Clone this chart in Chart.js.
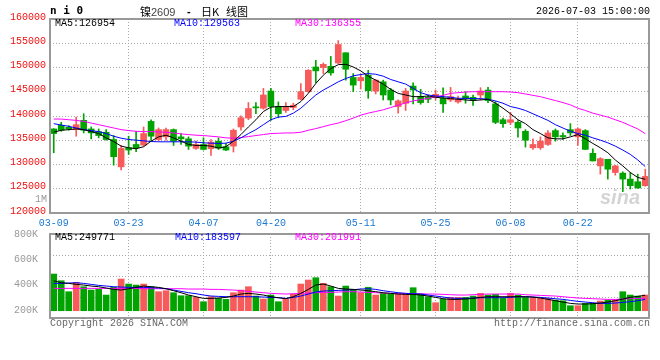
<!DOCTYPE html>
<html>
<head>
<meta charset="utf-8">
<script src="https://cdn.jsdelivr.net/npm/chart.js@4.4.0/dist/chart.umd.min.js"></script>
<style>
  body { margin: 0; width: 660px; height: 360px; background: #fff; position: relative; overflow: hidden; }
  canvas { position: absolute; left: 0; }
  .t { position: absolute; white-space: pre; font: 10px "Liberation Mono", "DejaVu Sans Mono", monospace; line-height: 12px; }
</style>
</head>
<body>
<canvas id="kChart" width="660" height="228" style="top:0"></canvas>
<canvas id="volChart" width="660" height="138" style="top:222px"></canvas>

<div class="t" style="left:50px;top:4px;font:bold 11px 'DejaVu Sans Mono';line-height:14px">n i 0</div>
<div class="t" style="left:140px;top:4px;font:11px 'Noto Sans CJK SC';line-height:14px">镍<span style="font-family:'Liberation Sans';color:#444">2609</span></div>
<div class="t" style="left:187px;top:4px;font:bold 11px 'Liberation Sans';line-height:14px">-</div>
<div class="t" style="left:201px;top:4px;font:11px 'Noto Sans CJK SC';line-height:14px">日K</div>
<div class="t" style="left:226px;top:4px;font:11px 'Noto Sans CJK SC';line-height:14px">线图</div>
<div class="t" style="left:536px;top:6px">2026-07-03 15:00:00</div>

<div class="t" style="left:55px;top:18px;color:#000">MA5:126954</div>
<div class="t" style="left:174px;top:18px;color:#0000ff">MA10:129563</div>
<div class="t" style="left:295px;top:18px;color:#ff00ff">MA30:136355</div>
<div class="t" style="left:35px;top:194px;color:#999">1M</div>
<div class="t" style="left:600px;top:186px;font:italic bold 20px 'Liberation Sans';line-height:22px;color:#d4d4d4">sina</div>

<div class="t" style="left:55px;top:232px;color:#000">MA5:249771</div>
<div class="t" style="left:175px;top:232px;color:#0000ff">MA10:183597</div>
<div class="t" style="left:295px;top:232px;color:#ff00ff">MA30:201991</div>

<div class="t" style="left:50px;top:318px;color:#666">Copyright 2026 SINA.COM</div>
<div class="t" style="left:494px;top:318px;color:#666">http://finance.sina.com.cn</div>

<script>
// trading days 03-09 .. 07-03
const dates = [
  '03-09','03-10','03-11','03-12','03-13','03-16','03-17','03-18','03-19','03-20',
  '03-23','03-24','03-25','03-26','03-27','03-30','03-31','04-01','04-02','04-03',
  '04-07','04-08','04-09','04-10','04-13','04-14','04-15','04-16','04-17','04-20',
  '04-21','04-22','04-23','04-24','04-27','04-28','04-29','04-30','05-06','05-07',
  '05-08','05-11','05-12','05-13','05-14','05-15','05-18','05-19','05-20','05-21',
  '05-22','05-25','05-26','05-27','05-28','05-29','06-01','06-02','06-03','06-04',
  '06-05','06-08','06-09','06-10','06-11','06-12','06-15','06-16','06-17','06-18',
  '06-22','06-23','06-24','06-25','06-26','06-29','06-30','07-01','07-02','07-03'
];
const tickDates = ['03-09','03-23','04-07','04-20','05-11','05-25','06-08','06-22'];

const openP = [
  137330,138080,137670,137190,139100,137330,136780,136650,135150,129510,
  133450,134130,134000,138890,135150,135700,137190,135700,135290,133320,
  134130,133250,134810,133660,133790,137740,139570,141820,141610,145150,
  141950,141140,141750,143450,145010,150110,149980,150250,150930,153040,
  147940,147260,148410,145150,147050,145350,141950,142630,146170,143990,
  143860,143860,143650,143310,142900,144130,143860,144330,145350,142500,
  139230,138690,138690,136850,133450,133450,134130,136990,135970,137190,
  135700,136990,132300,129710,131070,128350,128220,126990,126450,125630
];
const highP = [
  137400,138690,138010,139780,140460,137740,137330,137190,135970,133930,
  135830,136850,137740,139230,137530,137530,137330,136380,135700,134810,
  135490,135150,135490,134340,137330,140050,142770,142770,145690,145690,
  142900,142770,142630,146710,149570,151470,150930,152290,155550,153040,
  148750,148620,149430,147530,147390,145690,143310,145690,146850,145490,
  144330,145350,145830,145900,144130,145010,144330,145830,145900,142970,
  139570,140730,139030,137190,135290,135700,136990,137330,136510,138420,
  137530,137190,133250,131410,131070,129850,128490,128350,128010,129030
];
const lowP = [
  132430,136850,137060,135830,136510,135290,135490,135020,129850,128900,
  132090,132640,133790,134950,134810,135020,133930,134130,133110,133110,
  132980,131890,133110,132840,132570,137060,139230,140460,141410,139100,
  139640,140730,141270,143310,144880,146850,148750,148410,150790,147390,
  145010,145560,143650,144540,143310,142290,140590,141140,142500,142430,
  142770,143310,140730,142970,142630,142630,142160,143310,142770,138420,
  137670,138210,135630,133590,133110,133110,133930,134810,135150,135970,
  133930,133110,130730,128010,126990,127810,124410,124950,125090,125500
];
const closeP = [
  136380,137060,137330,138210,137060,136510,135970,135150,131620,133320,
  132980,133450,136380,135830,137190,137190,134810,135290,133790,134130,
  133110,134610,133380,132980,137060,139640,141540,141680,144330,141950,
  140460,141950,142220,145010,149430,149300,150660,148890,154740,149640,
  146370,147940,145220,147390,144330,143310,143110,145150,145350,142770,
  143450,144470,142500,143990,143450,143580,143310,145150,143180,138690,
  138420,139230,137530,135020,134130,134810,136510,135700,135700,136510,
  137330,133110,130730,131210,129030,129710,126990,125630,125160,127540
];

const ma5 = [
  136650,137060,137190,137330,137190,136780,136380,135490,134740,133790,
  133450,133250,133660,134810,135700,136040,135490,134810,134130,133930,
  133930,133790,133380,133660,134810,136170,137740,139230,140930,141820,
  141950,141950,141950,142970,144670,146710,148410,149770,150590,150660,
  150110,149300,148210,147390,146580,145490,144670,144330,143990,143990,
  144130,143860,143720,143580,143450,143310,143180,143310,143450,142630,
  141610,140460,139230,138420,137190,136380,135490,135290,135290,135700,
  136170,135290,134340,133450,132430,130940,129710,128350,127330,126954
];
const ma10 = [
  138420,138140,137870,137530,137190,136990,136780,136380,135830,135420,
  135150,135020,134880,134740,134680,134680,134680,134680,134680,134610,
  134470,134400,134340,134400,134810,135490,136380,137190,138210,139230,
  139780,139910,140590,141610,142970,144330,145350,146170,147050,147730,
  148280,148550,148750,148610,148210,147530,147050,146580,145690,144810,
  144330,144130,143990,143860,143650,143650,143580,143580,143450,143110,
  142630,141950,141610,141140,140460,139780,139100,138210,137530,136850,
  136380,136040,135490,135020,134470,133790,132980,132090,130940,129563
];
const ma30 = [
  139370,139370,139230,139100,138890,138550,138210,137870,137530,137190,
  136990,136850,136780,136780,136720,136650,136510,136310,136170,136040,
  135970,135830,135700,135490,135420,135560,135760,135970,136170,136380,
  136440,136510,136510,136650,137060,137400,137800,138210,138550,139030,
  139570,140180,140590,140930,141270,141750,142220,142700,143110,143380,
  143650,143920,144260,144670,144810,144940,145010,145010,145010,145010,
  145010,144940,144810,144540,144260,143990,143580,143180,142770,142290,
  141610,141140,140590,140180,139780,139230,138690,138010,137330,136355
];

const vol = [
  594000,486000,307800,459000,388800,334800,345600,253800,378000,513000,
  432000,415800,432000,388800,307800,324000,291600,243000,243000,216000,
  145800,226800,199800,183600,291600,334800,388800,237600,189000,253800,
  145800,183600,270000,432000,496800,534600,442800,388800,237600,399600,
  345600,291600,378000,253800,280800,270000,270000,264600,372600,270000,
  226800,129600,189000,216000,216000,216000,237600,280800,253800,264600,
  199800,280800,253800,216000,216000,199800,199800,172800,162000,81000,
  81000,118800,118800,156600,172800,183600,307800,253800,237600,253800
];
const volMa5 = [
  486000,453600,442800,426600,415800,399600,388800,367200,345600,334800,
  356400,378000,399600,388800,378000,356400,324000,291600,253800,226800,
  199800,199800,205200,216000,237600,270000,280800,270000,253800,226800,
  210600,194400,226800,280800,345600,415800,432000,399600,361800,351000,
  345600,334800,324000,307800,291600,280800,270000,264600,264600,253800,
  237600,216000,194400,183600,183600,189000,199800,216000,226800,226800,
  226800,226800,226800,226800,221400,205200,183600,162000,140400,118800,
  108000,108000,113400,124200,140400,162000,189000,216000,232200,249771
];
const volMa10 = [
  442800,442800,448200,453600,442800,426600,410400,399600,388800,383400,
  378000,378000,378000,372600,367200,356400,334800,313200,291600,275400,
  253800,237600,232200,226800,226800,226800,226800,226800,221400,216000,
  210600,199800,216000,237600,270000,302400,318600,324000,329400,334800,
  340200,351000,356400,345600,324000,307800,291600,280800,275400,270000,
  253800,237600,221400,205200,199800,199800,205200,210600,210600,210600,
  210600,216000,226800,226800,221400,216000,205200,194400,183600,167400,
  151200,140400,129600,118800,118800,124200,135000,145800,162000,183597
];
const volMa30 = [
  361800,361800,361800,361800,361800,361800,361800,361800,361800,361800,
  361800,361800,356400,356400,356400,356400,356400,356400,351000,351000,
  351000,345600,345600,340200,334800,324000,313200,302400,291600,280800,
  275400,270000,275400,280800,286200,291600,297000,297000,302400,307800,
  307800,302400,297000,291600,286200,280800,280800,280800,275400,275400,
  270000,270000,264600,259200,253800,253800,259200,264600,270000,270000,
  270000,270000,270000,259200,253800,248400,243000,237600,226800,216000,
  205200,199800,194400,189000,183600,183600,189000,194400,199800,201991
];
const volTickLabels = [200000, 400000, 600000, 800000];

const UP = '#f65a5a';
const DOWN = '#00a300';
const GRID = '#a8a8a8';
const FONT = { family: '"Liberation Mono", "DejaVu Sans Mono", monospace', size: 10 };

const candleColors = closeP.map((c, i) => c >= openP[i] ? UP : DOWN);
const bodies = openP.map((o, i) => [o, closeP[i]]);
const wicks = lowP.map((l, i) => [l, highP[i]]);

// solid frame around the plot area
const frame = {
  id: 'frame',
  afterDraw(chart) {
    const { ctx, chartArea: a } = chart;
    ctx.save();
    ctx.strokeStyle = '#999';
    ctx.lineWidth = 2;
    ctx.strokeRect(a.left, a.top, a.right - a.left, a.bottom - a.top);
    ctx.restore();
  }
};

function vGridColor(c) {
  return (c.index > 0 && tickDates.includes(dates[c.index])) ? GRID : 'rgba(0,0,0,0)';
}

function maLine(label, data, color) {
  return { type: 'line', label, data, yAxisID: 'y', borderColor: color, borderWidth: 1, pointRadius: 0, tension: 0, order: 0 };
}

new Chart(document.getElementById('kChart'), {
  type: 'bar',
  data: {
    labels: dates,
    datasets: [
      maLine('MA5', ma5, '#000000'),
      maLine('MA10', ma10, '#0000ff'),
      maLine('MA30', ma30, '#ff00ff'),
      { label: 'body', data: bodies, yAxisID: 'y', backgroundColor: candleColors, barThickness: 6, minBarLength: 1, grouped: false, order: 2 },
      { label: 'wick', data: wicks, yAxisID: 'y', backgroundColor: candleColors, barThickness: 1, grouped: false, order: 3 }
    ]
  },
  options: {
    responsive: false,
    animation: false,
    devicePixelRatio: 1,
    layout: { padding: { top: 19, right: 11, left: 0, bottom: 0 } },
    plugins: { legend: { display: false }, tooltip: { enabled: false } },
    scales: {
      x: {
        offset: true,
        grid: { offset: false, drawTicks: false, color: vGridColor },
        border: { display: false, dash: [1, 2] },
        ticks: {
          autoSkip: false, maxRotation: 0, padding: 4, color: '#1a78d0', font: FONT,
          callback: (v, i) => tickDates.includes(dates[i]) ? dates[i] : ''
        },
        afterFit: s => { s.height = 15; }
      },
      y: {
        min: 120000, max: 160000,
        ticks: { stepSize: 5000, color: '#ee1111', font: FONT, padding: 4, labelOffset: -2, callback: v => String(v) },
        grid: { drawTicks: false, color: GRID },
        border: { display: false, dash: [1, 2] },
        afterFit: s => { s.width = 50; }
      }
    }
  },
  plugins: [frame]
});

new Chart(document.getElementById('volChart'), {
  type: 'bar',
  data: {
    labels: dates,
    datasets: [
      maLine('MA5', volMa5, '#000000'),
      maLine('MA10', volMa10, '#0000ff'),
      maLine('MA30', volMa30, '#ff00ff'),
      { label: 'vol', data: vol, yAxisID: 'y', backgroundColor: candleColors, barThickness: 6, grouped: false, order: 2 }
    ]
  },
  options: {
    responsive: false,
    animation: false,
    devicePixelRatio: 1,
    layout: { padding: { top: 12, right: 11, left: 0, bottom: 42 } },
    plugins: { legend: { display: false }, tooltip: { enabled: false } },
    scales: {
      x: {
        offset: true,
        grid: { offset: false, drawTicks: false, color: vGridColor },
        border: { display: false, dash: [1, 2] },
        ticks: { display: false, autoSkip: false },
        afterFit: s => { s.height = 0; }
      },
      y: {
        position: 'left',
        min: -118000, max: 1242500,
        afterBuildTicks: s => {
          const q = (s.max - s.min) / 4;
          s.ticks = [1, 2, 3].map(k => ({ value: s.min + k * q }));
        },
        ticks: { display: false },
        grid: { drawTicks: false, color: GRID },
        border: { display: false, dash: [1, 2] },
        afterFit: s => { s.width = 0; }
      },
      yLab: {
        position: 'left',
        min: 139000, max: 800000,
        afterBuildTicks: s => { s.ticks = volTickLabels.map(v => ({ value: v })); },
        ticks: { color: '#999', font: FONT, padding: 4, callback: v => (v / 1000) + 'K' },
        grid: { display: false },
        border: { display: false },
        afterFit: s => { s.width = 50; }
      }
    }
  },
  plugins: [frame]
});
</script>
</body>
</html>
